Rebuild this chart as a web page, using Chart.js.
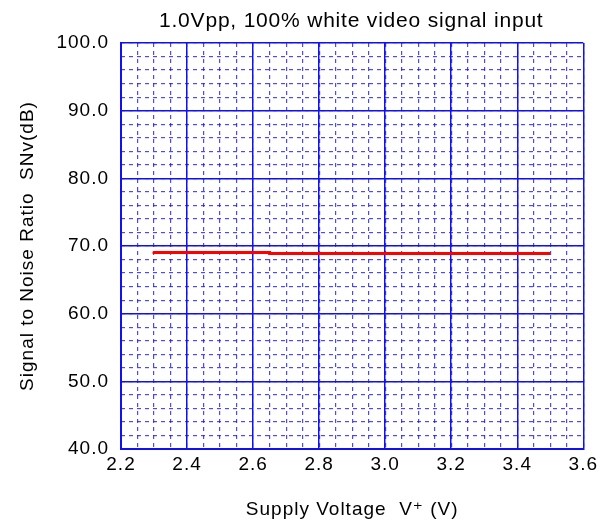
<!DOCTYPE html>
<html>
<head>
<meta charset="utf-8">
<script src="https://cdn.jsdelivr.net/npm/chart.js@4.4.1/dist/chart.umd.min.js"></script>
<style>
  html, body { margin: 0; padding: 0; background: #ffffff; }
  #c { display: block; }
</style>
</head>
<body>
<canvas id="c" width="602" height="522"></canvas>
<script>
// ---- data ----
const chartTitle = "1.0Vpp, 100% white video signal input";
const xAxisTitle = "Supply Voltage  V\u207A (V)";
const yAxisTitle = "Signal to Noise Ratio  SNv(dB)";
const supplyVoltage = [2.3, 2.65, 3.45, 3.5];     // V+
const snRatio = [69.2, 69.05, 68.9, 68.9];         // dB
const xRange = [2.2, 3.6];
const yRange = [40, 100];
const xMajorStep = 0.2, xMinorStep = 0.05;
const yMajorStep = 10, yMinorStep = 2;

// ---- styles ----
const FONT = "'Liberation Sans', Arial, 'DejaVu Sans', sans-serif";
const MAJOR = '#1010f0';
const MINOR = 'rgba(30,30,235,0.8)';
const SPACING = '1px';

const spacingPlugin = {
  id: 'spacing',
  beforeUpdate(chart) { chart.ctx.letterSpacing = SPACING; },
  beforeLayout(chart) { chart.ctx.letterSpacing = SPACING; },
  beforeDraw(chart) { chart.ctx.letterSpacing = SPACING; }
};

const titlePlugin = {
  id: 'topTitle',
  afterDraw(chart) {
    const ctx = chart.ctx;
    ctx.save();
    ctx.letterSpacing = '0.8px';
    ctx.font = "21px " + FONT;
    ctx.fillStyle = '#000';
    ctx.textAlign = 'left';
    ctx.textBaseline = 'alphabetic';
    ctx.fillText(chartTitle, 159, 27);
    ctx.restore();
  }
};

const points = supplyVoltage.map((v, i) => ({ x: v, y: snRatio[i] }));

new Chart(document.getElementById('c'), {
  type: 'line',
  data: {
    datasets: [{
      data: points,
      borderColor: '#ff0000',
      borderWidth: 3,
      pointRadius: 0,
      stepped: 'after',
      fill: false
    }]
  },
  options: {
    responsive: false,
    devicePixelRatio: 1,
    animation: false,
    layout: { padding: { left: 0, right: 17, top: 43, bottom: 0 } },
    plugins: { legend: { display: false }, tooltip: { enabled: false }, title: { display: false } },
    scales: {
      x: {
        type: 'linear', position: 'bottom',
        min: xRange[0], max: xRange[1],
        ticks: {
          stepSize: xMajorStep, autoSkip: false, padding: 4,
          color: '#000', font: { size: 19, family: FONT },
          callback: v => Number(v).toFixed(1)
        },
        grid: { color: MAJOR, lineWidth: 1.5, drawTicks: false, z: 0 },
        border: { display: true, color: MAJOR, width: 2 },
        title: {
          display: true, text: xAxisTitle, color: '#000',
          font: { size: 19, family: FONT }, padding: { top: 0, bottom: 1 }
        },
        afterFit(s) { s.height = 73; }
      },
      xMinor: {
        type: 'linear', position: 'bottom',
        min: xRange[0], max: xRange[1],
        ticks: { stepSize: xMinorStep, display: false },
        grid: { color: MINOR, lineWidth: 1.2, drawTicks: false, z: -1 },
        border: { display: false, dash: [4, 4] },
        afterFit(s) { s.height = 0; }
      },
      y: {
        type: 'linear', position: 'left',
        min: yRange[0], max: yRange[1],
        ticks: {
          stepSize: yMajorStep, autoSkip: false, padding: 12,
          color: '#000', font: { size: 19, family: FONT },
          callback: v => Number(v).toFixed(1)
        },
        grid: { color: MAJOR, lineWidth: 1.5, drawTicks: false, z: 0 },
        border: { display: true, color: MAJOR, width: 2 },
        title: {
          display: true, text: yAxisTitle, color: '#000',
          font: { size: 19, family: FONT }, padding: { top: 16, bottom: 0 }
        },
        afterFit(s) { s.width = 121; }
      },
      yMinor: {
        type: 'linear', position: 'left',
        min: yRange[0], max: yRange[1],
        ticks: { stepSize: yMinorStep, display: false },
        grid: { color: MINOR, lineWidth: 1.2, drawTicks: false, z: -1 },
        border: { display: false, dash: [4, 4] },
        afterFit(s) { s.width = 0; }
      }
    }
  },
  plugins: [spacingPlugin, titlePlugin]
});
</script>
</body>
</html>
